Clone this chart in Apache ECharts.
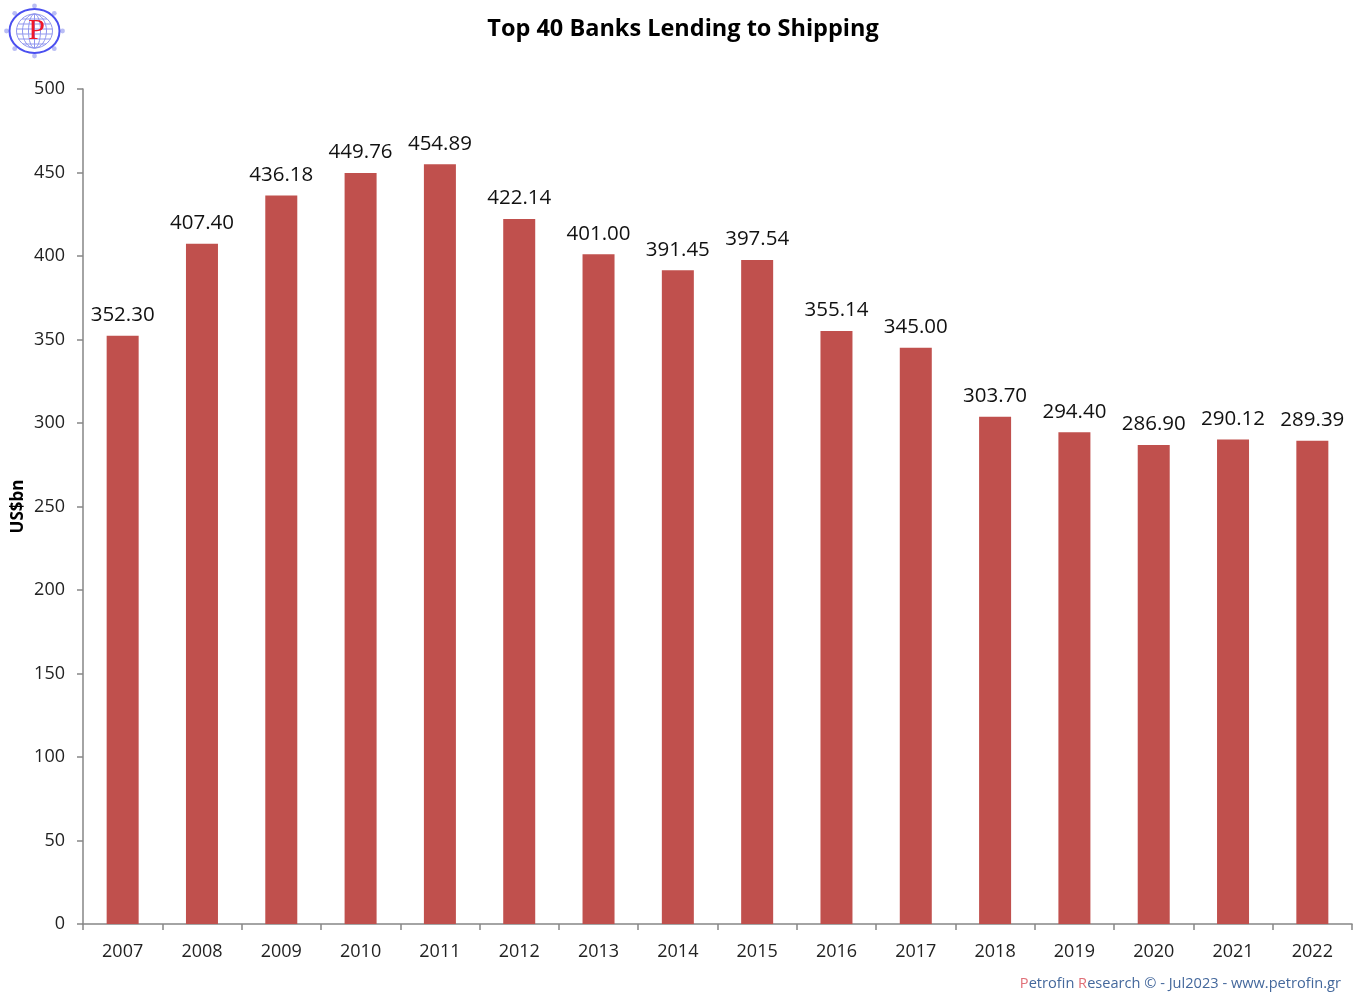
<!DOCTYPE html>
<html><head><meta charset="utf-8">
<style>html,body{margin:0;padding:0;background:#fff}#c{width:1360px;height:994px}</style>
<script src="https://cdn.jsdelivr.net/npm/echarts@6/dist/echarts.min.js"></script>
</head><body><div id="c"></div>
<script>
const categories=['2007','2008','2009','2010','2011','2012','2013','2014','2015','2016','2017','2018','2019','2020','2021','2022'];
const values=[352.30,407.40,436.18,449.76,454.89,422.14,401.00,391.45,397.54,355.14,345.00,303.70,294.40,286.90,290.12,289.39];
const font='"Open Sans"';
const cx=34.5,cy=31;
const logo=[];
// compass knobs
for(let i=0;i<8;i++){const a=i*Math.PI/4;
  logo.push({type:'circle',shape:{cx:cx+28*Math.cos(a),cy:cy+25*Math.sin(a),r:2.4},style:{fill:'#b9bdf5'}});}
// globe meridians and parallels
[18,12,6].forEach(rx=>logo.push({type:'ellipse',shape:{cx,cy,rx,ry:17},style:{fill:'none',stroke:'#8f95ee',lineWidth:1}}));
logo.push({type:'line',shape:{x1:cx,y1:cy-17,x2:cx,y2:cy+17},style:{stroke:'#8f95ee',lineWidth:1}});
[[-12,12.5],[-7,16],[-2,18],[3,18],[8,16],[13,11.5]].forEach(([d,h])=>logo.push({type:'line',shape:{x1:cx-h,y1:cy+d,x2:cx+h,y2:cy+d},style:{stroke:'#8f95ee',lineWidth:1}}));
logo.push({type:'ellipse',shape:{cx,cy,rx:25,ry:22},style:{fill:'none',stroke:'#4a4ff0',lineWidth:2}});
logo.push({type:'text',style:{x:cx+2,y:cy,text:'P',fill:'#f01828',font:'30px "Liberation Serif"',textAlign:'center',textVerticalAlign:'middle'}});
const chart=echarts.init(document.getElementById('c'),null,{renderer:'canvas'});
chart.setOption({
  animation:false,
  backgroundColor:'#fff',
  title:{text:'Top 40 Banks Lending to Shipping',left:678,top:12,textAlign:'center',textStyle:{fontFamily:font,fontSize:23.5,fontWeight:'bold',color:'#000'}},
  grid:{left:83,right:8,top:89,bottom:70,outerBoundsMode:'none'},
  xAxis:{type:'category',data:categories,axisLine:{lineStyle:{color:'#868686',width:1.5}},axisTick:{show:true,length:6,lineStyle:{color:'#868686',width:1.5}},axisLabel:{fontFamily:font,fontSize:18,color:'#222',margin:19}},
  yAxis:{type:'value',min:0,max:500,interval:50,name:'US$bn',nameLocation:'middle',nameGap:56,nameMoveOverlap:false,nameTextStyle:{fontFamily:font,fontSize:17,fontWeight:'bold',color:'#000'},axisLine:{show:true,lineStyle:{color:'#868686',width:1.5}},axisTick:{show:true,length:6,lineStyle:{color:'#868686',width:1.5}},axisLabel:{fontFamily:font,fontSize:18,color:'#222',margin:18},splitLine:{show:false}},
  series:[{type:'bar',data:values,barWidth:32,itemStyle:{color:'#C0504D'},label:{show:true,position:'top',distance:10,formatter:p=>p.value.toFixed(2),fontFamily:font,fontSize:20.5,color:'#111'}}],
  graphic:[
   {type:'group',left:0,top:0,bounding:'raw',children:logo},
   {type:'text',right:19,top:976,style:{rich:{r:{fill:'#e07078',font:'14.6px "Open Sans"'},g:{fill:'#44689c',font:'14.6px "Open Sans"'}},text:'{r|P}{g|etrofin }{r|R}{g|esearch © - Jul2023 - www.petrofin.gr}'}}
  ]
});
</script></body></html>
